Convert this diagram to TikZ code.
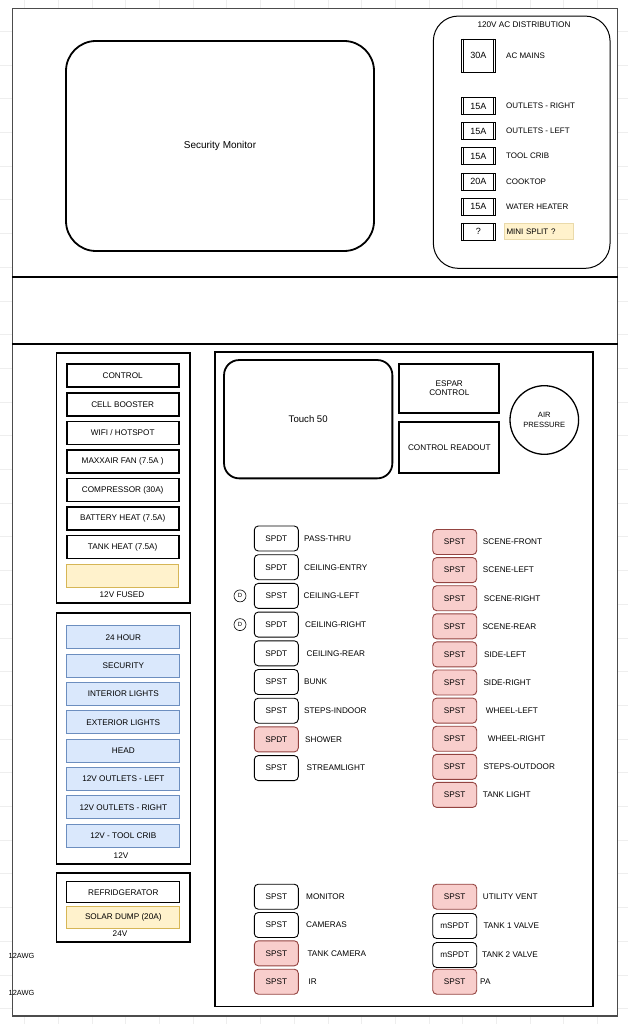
\documentclass[tikz,border=0pt]{standalone}
\usepackage{fontspec}
\setmainfont{Liberation Sans}
\definecolor{bfill}{HTML}{DAE8FC}
\definecolor{bline}{HTML}{6C8EBF}
\definecolor{yfill}{HTML}{FFF2CC}
\definecolor{yline}{HTML}{D6B656}
\definecolor{pfill}{HTML}{F8CECC}
\definecolor{pline}{HTML}{B85450}
\definecolor{gridc}{HTML}{EEEEEE}
\begin{document}
\begin{tikzpicture}[x=1pt,y=-1pt,
  txt/.style={font=\fontsize{8.2}{9.5}\selectfont},
  frame/.style={draw=black!70, line width=1.3pt, fill=white, minimum width=605, minimum height=1007.5, inner sep=0},
  divider/.style={draw=black, line width=1.8pt},
  panel/.style={draw=black, line width=1.8pt, inner sep=0},
  item/.style={draw=black, line width=1.7pt, minimum width=112, minimum height=23, inner sep=0, txt},
  bitem/.style={item, fill=bfill, draw=bline, line width=1.1pt},
  yitem/.style={item, fill=yfill, draw=yline, line width=1.1pt},
  fuse/.style={draw=black, line width=0.8pt, minimum width=34.7, minimum height=16.7, inner sep=0,
    font=\fontsize{9}{10}\selectfont},
  fuseline/.style={draw=black, line width=0.7pt},
  sw/.style={draw=black, rounded corners=4pt, line width=0.9pt, minimum width=44, minimum height=25, inner sep=0, txt},
  psw/.style={sw, fill=pfill, draw=pline!80!black},
  lbl/.style={anchor=west, inner sep=0, txt},
  aclbl/.style={anchor=west, inner sep=0, font=\fontsize{8}{9.5}\selectfont},
  dmark/.style={draw=black, circle, line width=0.6pt, minimum size=12, inner sep=0, font=\fontsize{6}{7}\selectfont}
]
\useasboundingbox (0,0) rectangle (628,1024);
\fill[white] (0,0) rectangle (628,1024);
\foreach \k in {0,...,18} \draw[gridc, line width=0.5pt] (24.5+33.7*\k,0) -- (24.5+33.7*\k,1024);
\foreach \k in {0,...,30} \draw[gridc, line width=0.5pt] (0,31.2+33.7*\k) -- (628,31.2+33.7*\k);

% outer frame
\node[frame] (frame) at (315,512.25) {};
\draw[divider] (frame.west |- 0,277) -- (frame.east |- 0,277);
\draw[divider] (frame.west |- 0,344) -- (frame.east |- 0,344);

% top area
\node[draw=black, line width=1.8pt, rounded corners=30pt, minimum width=308, minimum height=210, inner sep=0,
  font=\fontsize{10}{12}\selectfont] (secmon) at (220,146) {Security Monitor};

\node[draw=black, line width=1pt, rounded corners=25pt, minimum width=176.7, minimum height=252.3, inner sep=0] (acbox) at (521.7,142.2) {};
\node[inner sep=0, font=\fontsize{8.2}{9.5}\selectfont] (actitle) at (524,24.3) {120V AC DISTRIBUTION};

\node[fuse, minimum height=33.7] (f1) at (478.35,55.9) {30A};
\node[aclbl] (a1) at (506,55.9) {AC MAINS};
\foreach \y/\a/\l [count=\i from 2] in {106/15A/OUTLETS - RIGHT, 131/15A/OUTLETS - LEFT, 156/15A/TOOL CRIB, 181.7/20A/COOKTOP, 206.7/15A/WATER HEATER}{
  \node[fuse] (f\i) at (478.35,\y) {\a};
  \node[aclbl] (a\i) at (506,\y) {\l};
}
\node[fuse] (f7) at (478.35,231.7) {?};
\foreach \i in {1,...,7}{
  \draw[fuseline] ([xshift=3pt]f\i.north west) -- ([xshift=3pt]f\i.south west);
  \draw[fuseline] ([xshift=-3pt]f\i.north east) -- ([xshift=-3pt]f\i.south east);
}
\node[anchor=west, fill=yfill, draw=yline!50, line width=0.5pt, minimum height=16, text width=64.4, inner sep=2pt,
  font=\fontsize{8}{9.5}\selectfont] (a7) at (504.3,231.7) {MINI SPLIT ?};

% left panels
\node[panel, minimum width=133.5, minimum height=250] (fused) at (123.25,478) {};
\foreach \y/\l [count=\i] in {375.7/CONTROL, 404.6/CELL BOOSTER, 433/{WIFI / HOTSPOT}, 461.5/MAXXAIR FAN (7.5A ), 490/COMPRESSOR (30A), 518.5/BATTERY HEAT (7.5A), 547/TANK HEAT (7.5A)}{
  \node[item] (fu\i) at (122.7,\y) {\l};
}
\node[yitem] (fu8) at (122.7,576) {};
\node[inner sep=0, txt] (fusedlbl) at (122,595) {12V FUSED};

\node[panel, minimum width=134, minimum height=251] (twelve) at (123.4,738.8) {};
\foreach \y/\l [count=\i] in {637.3/24 HOUR, 665.7/SECURITY, 694/INTERIOR LIGHTS, 722.3/EXTERIOR LIGHTS, 750.7/HEAD, 779/12V OUTLETS - LEFT, 807.3/12V OUTLETS - RIGHT, 835.7/12V - TOOL CRIB}{
  \node[bitem, minimum width=113] (tw\i) at (123.3,\y) {\l};
}
\node[inner sep=0, txt] (twelvelbl) at (121,856) {12V};

\node[panel, minimum width=133.5, minimum height=68.4] (tfour) at (123.25,907.5) {};
\node[item, minimum width=113, minimum height=21, line width=1.2pt] (tf1) at (123.3,892.2) {REFRIDGERATOR};
\node[yitem, minimum width=113, minimum height=21.6] (tf2) at (123.3,917.5) {SOLAR DUMP (20A)};
\node[inner sep=0, txt] (tfourlbl) at (120,933.8) {24V};

\node[anchor=west, inner sep=0, font=\fontsize{7.4}{9}\selectfont] (awg1) at (8.5,955.7) {12AWG};
\node[anchor=west, inner sep=0, font=\fontsize{7.4}{9}\selectfont] (awg2) at (8.5,993.3) {12AWG};

% right panel
\node[panel, minimum width=378, minimum height=654.8] (rpanel) at (404,679.1) {};
\node[draw=black, line width=1.8pt, rounded corners=15pt, minimum width=168.3, minimum height=118.3, inner sep=0,
  font=\fontsize{9.6}{11}\selectfont] (touch) at (308.2,419.2) {Touch 50};
\node[panel, minimum width=100, minimum height=48.7, align=center, txt] (espar) at (449.3,388.35) {ESPAR\\CONTROL};
\node[panel, minimum width=100, minimum height=51, txt] (readout) at (449.3,447.2) {CONTROL READOUT};
\node[draw=black, circle, line width=1.3pt, minimum size=68.6, inner sep=0, align=center,
  font=\fontsize{7.6}{9.2}\selectfont] (air) at (544.3,420) {AIR\\PRESSURE};

\foreach \y/\t/\s/\l/\x [count=\i] in {
  538.5/SPDT/sw/PASS-THRU/304,
  567.2/SPDT/sw/CEILING-ENTRY/304,
  595.9/SPST/sw/CEILING-LEFT/303.5,
  624.6/SPDT/sw/CEILING-RIGHT/305,
  653.3/SPDT/sw/CEILING-REAR/306.5,
  682/SPST/sw/BUNK/304,
  710.7/SPST/sw/STEPS-INDOOR/304,
  739.4/SPDT/psw/SHOWER/305,
  768.1/SPST/sw/STREAMLIGHT/306.5}{
  \node[\s] (ls\i) at (276.3,\y) {\t};
  \node[lbl] (ll\i) at (\x,\y) {\l};
}
\node[dmark] (d1) at (240,595.9) {D};
\node[dmark] (d2) at (240,624.6) {D};

\foreach \y/\l/\x [count=\i] in {
  542/SCENE-FRONT/482.7,
  570.1/SCENE-LEFT/482.7,
  598.2/SCENE-RIGHT/483.7,
  626.3/SCENE-REAR/482.3,
  654.4/SIDE-LEFT/484,
  682.5/SIDE-RIGHT/483.3,
  710.6/WHEEL-LEFT/485.7,
  738.7/WHEEL-RIGHT/487.7,
  766.8/STEPS-OUTDOOR/483.3,
  794.9/TANK LIGHT/482.7}{
  \node[psw] (rs\i) at (454.7,\y) {SPST};
  \node[lbl] (rl\i) at (\x,\y) {\l};
}

\foreach \y/\t/\s/\l/\x [count=\i] in {
  896.7/SPST/sw/MONITOR/306,
  925/SPST/sw/CAMERAS/306,
  953.3/SPST/psw/TANK CAMERA/307.3,
  981.7/SPST/psw/IR/308.5}{
  \node[\s] (bs\i) at (276.3,\y) {\t};
  \node[lbl] (bl\i) at (\x,\y) {\l};
}
\foreach \y/\t/\s/\l/\x [count=\i] in {
  896.7/SPST/psw/UTILITY VENT/482.7,
  926/mSPDT/sw/TANK 1 VALVE/483.3,
  955/mSPDT/sw/TANK 2 VALVE/482,
  981.7/SPST/psw/PA/480}{
  \node[\s] (cs\i) at (454.7,\y) {\t};
  \node[lbl] (cl\i) at (\x,\y) {\l};
}
\end{tikzpicture}
\end{document}
